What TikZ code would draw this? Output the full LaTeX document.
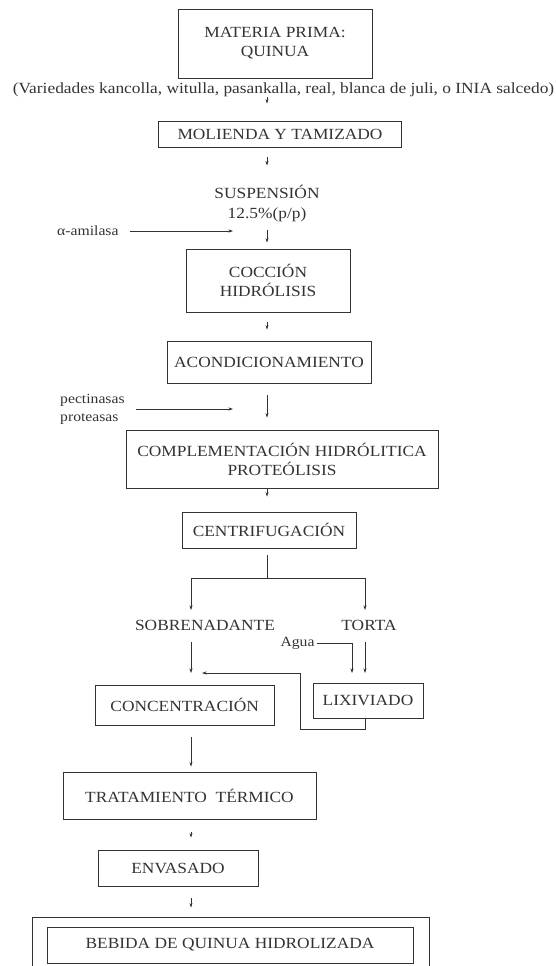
\documentclass[tikz,border=0pt]{standalone}
\usepackage{fontspec}
\setmainfont{Liberation Serif}[FakeStretch=1.12]
\usetikzlibrary{arrows, arrows.meta}
\usetikzlibrary{calc}

\tikzset{
  box/.style={draw, line width=0.9pt, inner sep=0pt, align=center, font=\fontsize{15.5}{19}\selectfont},
  lbl/.style={inner sep=0pt, align=center, font=\fontsize{15.5}{20}\selectfont},
  note/.style={inner sep=0pt, align=left, font=\fontsize{14}{18}\selectfont},
  arr/.style={-{Stealth[length=4.5pt, width=3pt]}, line width=0.6pt},
  ln/.style={line width=0.6pt}
}

\begin{document}
\begin{tikzpicture}[x=1pt, y=-1pt, color=black!80]
      \useasboundingbox (0,0) rectangle (556,966);
      \coordinate (ax) at (267,0);

      \node[box, minimum width=194pt, minimum height=69pt] (mp) at (275,43.5) {MATERIA PRIMA:\\QUINUA};
      \node[lbl] (var) at (283.5,90) {(Variedades kancolla, witulla, pasankalla, real, blanca de juli, o INIA salcedo)};
      \node[box, minimum width=243pt, minimum height=26pt] (mol) at (280,134) {MOLIENDA Y TAMIZADO};
      \node[lbl] (susp) at (267,203) {SUSPENSIÓN\\12.5\%(p/p)};
      \node[note, anchor=west] (amil) at (57,231) {α-amilasa};
      \node[box, minimum width=164pt, minimum height=63pt] (coc) at (268,280.5) {COCCIÓN\\HIDRÓLISIS};
      \node[box, minimum width=204pt, minimum height=42pt] (acon) at (269,362) {ACONDICIONAMIENTO};
      \node[note, anchor=west] (pect) at (60,409) {pectinasas\\proteasas};
      \node[box, minimum width=312pt, minimum height=58pt] (comp) at (282,459) {COMPLEMENTACIÓN HIDRÓLITICA\\PROTEÓLISIS};
      \node[box, minimum width=174pt, minimum height=36pt] (cent) at (269,530) {CENTRIFUGACIÓN};
      \node[lbl] (sob) at (205,625) {SOBRENADANTE};
      \node[lbl] (tor) at (369,625) {TORTA};
      \node[note] (agua) at (297.5,643) {Agua};
      \node[box, minimum width=179.5pt, minimum height=40pt] (conc) at (184.7,705) {CONCENTRACIÓN};
      \node[box, minimum width=110pt, minimum height=35pt] (lix) at (368,700.5) {LIXIVIADO};
      \node[box, minimum width=253pt, minimum height=47pt] (trat) at (189.5,795.5) {TRATAMIENTO\ \ TÉRMICO};
      \node[box, minimum width=160pt, minimum height=36pt] (env) at (178,868) {ENVASADO};
      \node[box, minimum width=397pt, minimum height=60pt] (bebout) at (230.5,947) {};
      \node[box, minimum width=366pt, minimum height=36pt] (beb) at (230,945) {BEBIDA DE QUINUA HIDROLIZADA};

      \coordinate (amilin) at (233,231);
      \coordinate (pectin) at (233,409);
      \coordinate (br) at (267,578);
      \coordinate (sobin) at (191,610);
      \coordinate (torin) at (365,610);
      \coordinate (concin) at (191,673);
      \coordinate (lixin) at (365,673);
      \coordinate (aguain) at (352,673);
      \coordinate (ret) at (300,729);
      \coordinate (retin) at (202,673);

      \draw[arr, shorten >=17pt] (var.south -| ax) -- (mol.north -| ax);
      \draw[arr, shorten <=10pt, shorten >=19pt] (mol.south -| ax) -- (susp.north -| ax);
      \draw[arr, shorten <=8pt, shorten >=6pt] (susp.south -| ax) -- (coc.north -| ax);
      \draw[arr, shorten <=11pt] (amil.east) -- (amilin);
      \draw[arr, shorten <=10pt, shorten >=11pt] (coc.south -| ax) -- (acon.north -| ax);
      \draw[arr, shorten <=12pt, shorten >=12pt] (acon.south -| ax) -- (comp.north -| ax);
      \draw[arr, shorten <=11pt] (pect.east) -- (pectin);
      \draw[arr, shorten >=15pt] (comp.south -| ax) -- (cent.north -| ax);
      \draw[ln, shorten <=7pt] (cent.south -| ax) -- (br);
      \draw[arr] (br) -| (sobin);
      \draw[arr] (br) -| (torin);
      \draw[arr, shorten <=12pt] (sob.south -| concin) -- (concin);
      \draw[arr, shorten <=12pt] (tor.south -| lixin) -- (lixin);
      \draw[arr, shorten <=2pt] (agua.east) -| (aguain);
      \draw[arr] (lix.south -| lixin) |- (ret) |- (retin);
      \draw[arr, shorten <=12pt, shorten >=5pt] (conc.south -| sobin) -- (trat.north -| sobin);
      \draw[arr, shorten <=13pt, shorten >=12pt] (trat.south -| sobin) -- (env.north -| sobin);
      \draw[arr, shorten <=12pt, shorten >=9pt] (env.south -| sobin) -- (bebout.north -| sobin);
    \end{tikzpicture}
\end{document}
